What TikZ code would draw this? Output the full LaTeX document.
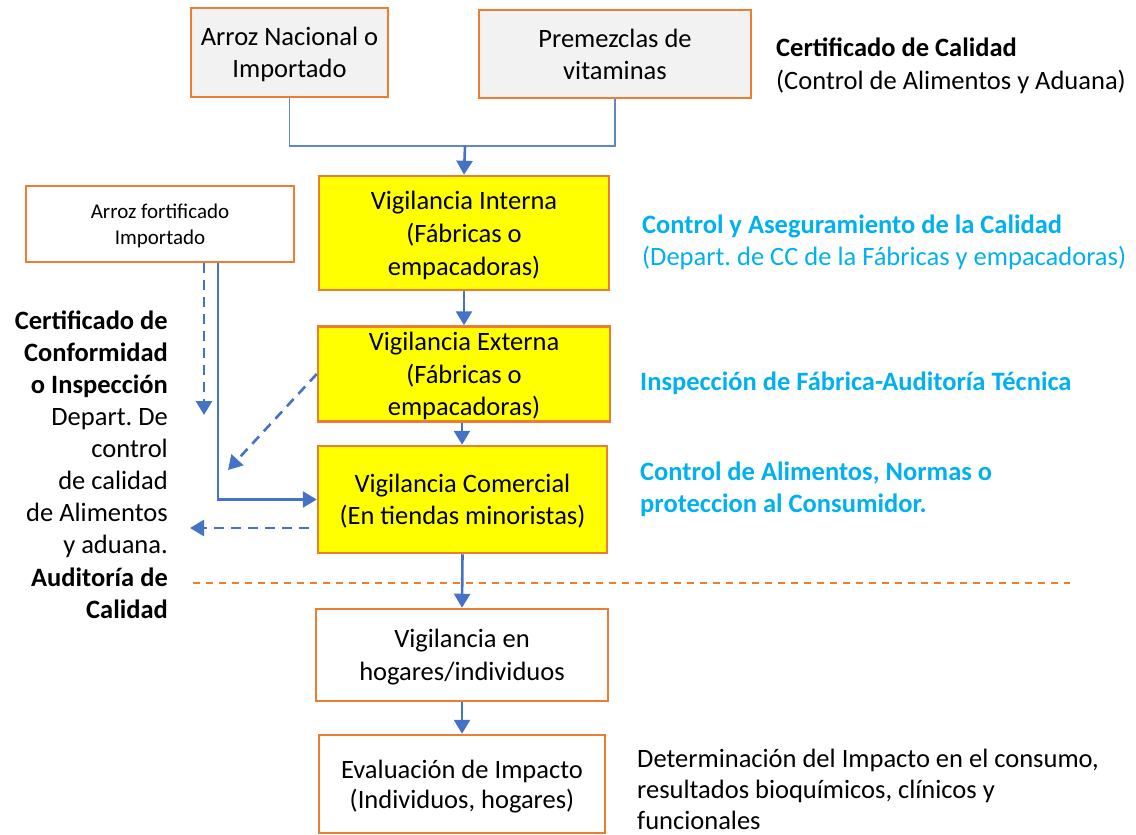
\documentclass[tikz,border=0pt]{standalone}
\usepackage{fontspec}
\setmainfont{Carlito}
\usepackage{xcolor}
\usepackage{tikz}
\usetikzlibrary{arrows.meta, positioning}
\frenchspacing

\definecolor{borde}{HTML}{ED7D31}
\definecolor{gris}{HTML}{F2F2F2}
\definecolor{amarillo}{HTML}{FFFF00}
\definecolor{azul}{HTML}{4472C4}
\definecolor{celeste}{HTML}{00B0F0}

\begin{document}
\begin{tikzpicture}[
  x=1pt, y=-1pt,
  every node/.style={align=center, inner sep=0pt, font=\fontsize{26.5}{32.5}\selectfont},
  sourcebox/.style={rectangle, draw=borde, fill=gris, line width=2.5pt, text depth=0pt, font=\fontsize{26.5}{32}\selectfont},
  vigbox/.style={rectangle, draw=borde, fill=amarillo, line width=2.5pt, text depth=0pt},
  plainbox/.style={rectangle, draw=borde, fill=white, line width=2.5pt, text depth=0pt},
  feed/.style={draw=azul!85, line width=1.4pt},
  arrow/.style={azul, line width=2.6pt, -{Triangle[width=16pt, length=14pt]}},
  dasharrow/.style={arrow, dash pattern=on 10pt off 7pt},
  limit/.style={borde, line width=1.5pt, dash pattern=on 7pt off 6pt},
  note/.style={align=left, anchor=west},
  bluenote/.style={note, text=celeste}
]
\useasboundingbox (0,0) rectangle (1136,835);

% Input nodes
\node[sourcebox, minimum width=197pt, minimum height=89pt] (nacional) at (289.5,52.5) {Arroz Nacional o\\Importado};
\node[sourcebox, minimum width=272pt, minimum height=88pt] (premezcla) at (615,54) {Premezclas de\\vitaminas};
\node[plainbox, minimum width=268pt, minimum height=76pt, font=\fontsize{21}{26}\selectfont] (fortificado) at (160,224) {Arroz fortificado\\Importado};

% Process nodes
\node[vigbox, minimum width=290pt, minimum height=114pt, font=\fontsize{26.5}{33}\selectfont] (interna) at (464,233) {Vigilancia Interna\\(Fábricas o\\empacadoras)};
\node[vigbox, minimum width=292pt, minimum height=95pt] (externa) at (464,374) {Vigilancia Externa\\(Fábricas o\\empacadoras)};
\node[vigbox, minimum width=289pt, minimum height=107pt] (comercial) at (462.5,499.5) {Vigilancia Comercial\\(En tiendas minoristas)};
\node[plainbox, minimum width=292pt, minimum height=92pt] (hogares) at (462,655) {Vigilancia en\\hogares/individuos};
\node[plainbox, minimum width=286pt, minimum height=98pt, font=\fontsize{26.5}{30}\selectfont] (impacto) at (462,784) {Evaluación de Impacto\\(Individuos, hogares)};

% Notes
\node[note] (calidad) at (776,66) {\textbf{Certificado de Calidad}\\(Control de Alimentos y Aduana)};
\node[bluenote] (aseguramiento) at (642,242.5) {\textbf{Control y Aseguramiento de la Calidad}\\(Depart. de CC de la Fábricas y empacadoras)};
\node[bluenote] (auditoria) at (640,383) {\textbf{Inspección de Fábrica-Auditoría Técnica}};
\node[bluenote] (consumidor) at (640,489.5) {\textbf{Control de Alimentos, Normas o}\\\textbf{proteccion al Consumidor.}};
\node[note, font=\fontsize{26.5}{31}\selectfont] (determinacion) at (637,789) {Determinación del Impacto en el consumo,\\resultados bioquímicos, clínicos y\\funcionales};
\node[align=right, anchor=east, font=\fontsize{26.5}{32.1}\selectfont] (conformidad) at (168,464.5) {\textbf{Certificado de}\\\textbf{Conformidad}\\\textbf{o Inspección}\\Depart. De\\control\\de calidad\\de Alimentos\\y aduana.\\\textbf{Auditoría de}\\\textbf{Calidad}};

% Helper coordinates
\coordinate (junta) at (465,146);
\coordinate (certif) at (204,415);
\coordinate (codo) at (218,497);
\coordinate (retorno) at (228,470);
\coordinate (salida) at (190,528);
\coordinate (limA) at (193,583);
\coordinate (limB) at (1070,583);

% Arrows
\draw[feed] (nacional.south) |- (junta) -| (premezcla.south);
\draw[arrow] (junta) -- (interna.north);
\draw[arrow] (interna.south) -- (externa.north);
\draw[arrow] ([xshift=-2pt]externa.south) -- ([xshift=-0.5pt]comercial.north);
\draw[arrow] (comercial.south) -- (hogares.north);
\draw[arrow] (hogares.south) -- (impacto.north);
\draw[dasharrow] (fortificado.south -| certif) -- (certif);
\draw[arrow] (fortificado.south -| codo) |- (comercial.west);
\draw[dasharrow] (externa.west) -- (retorno);
\draw[dasharrow] ([xshift=-8pt]comercial.west |- salida) -- (salida);

% Boundary line
\draw[limit] (limA) -- (limB);

\end{tikzpicture}
\end{document}
